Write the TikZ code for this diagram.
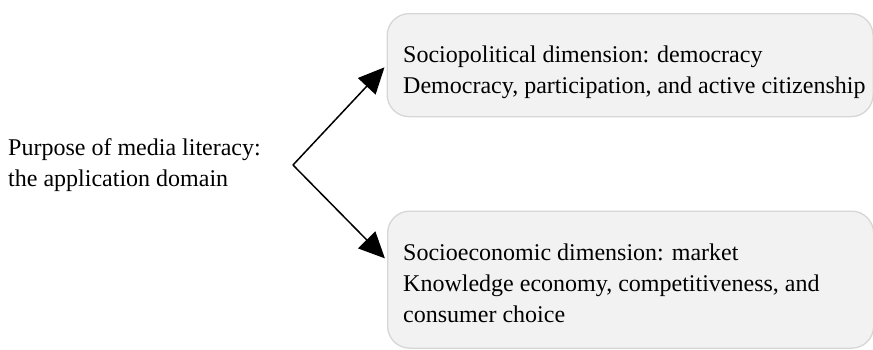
\documentclass[tikz,border=0pt]{standalone}
\usepackage{fontspec}
\setmainfont{Liberation Serif}
\usetikzlibrary{arrows.meta}
\definecolor{boxfill}{RGB}{242,242,242}
\definecolor{boxline}{RGB}{214,214,214}
\tikzset{
  frame/.style={draw=boxline, fill=boxfill, line width=1.3pt, rounded corners=22pt, inner sep=0pt, anchor=north west},
  txt/.style={inner sep=0pt, align=left, anchor=west, font=\fontsize{24}{31}\selectfont},
  arr/.style={draw=black, line width=1.5pt, -{Triangle[length=26pt,width=24pt]}, shorten >=3pt},
}
\begin{document}
\begin{tikzpicture}[x=1pt,y=-1pt]
\useasboundingbox (0,0) rectangle (873,349);
\node[frame, minimum width=486pt, minimum height=103pt] (pol) at (386.5,13) {};
\node[frame, minimum width=486pt, minimum height=137pt] (eco) at (387,210.5) {};
\node[txt] (src) at (8,165) {Purpose of media literacy:\\the application domain};
\node[txt] (poltext) at (403,72) {Sociopolitical dimension: democracy\\Democracy, participation, and active citizenship};
\node[txt] (ecotext) at (403,283) {Socioeconomic dimension: market\\Knowledge economy, competitiveness, and\\consumer choice};
\coordinate (v) at (293,165);
\draw[arr] (v) -- (pol.west);
\draw[arr] (v) -- ([yshift=-50pt]eco.north west);
\end{tikzpicture}
\end{document}
